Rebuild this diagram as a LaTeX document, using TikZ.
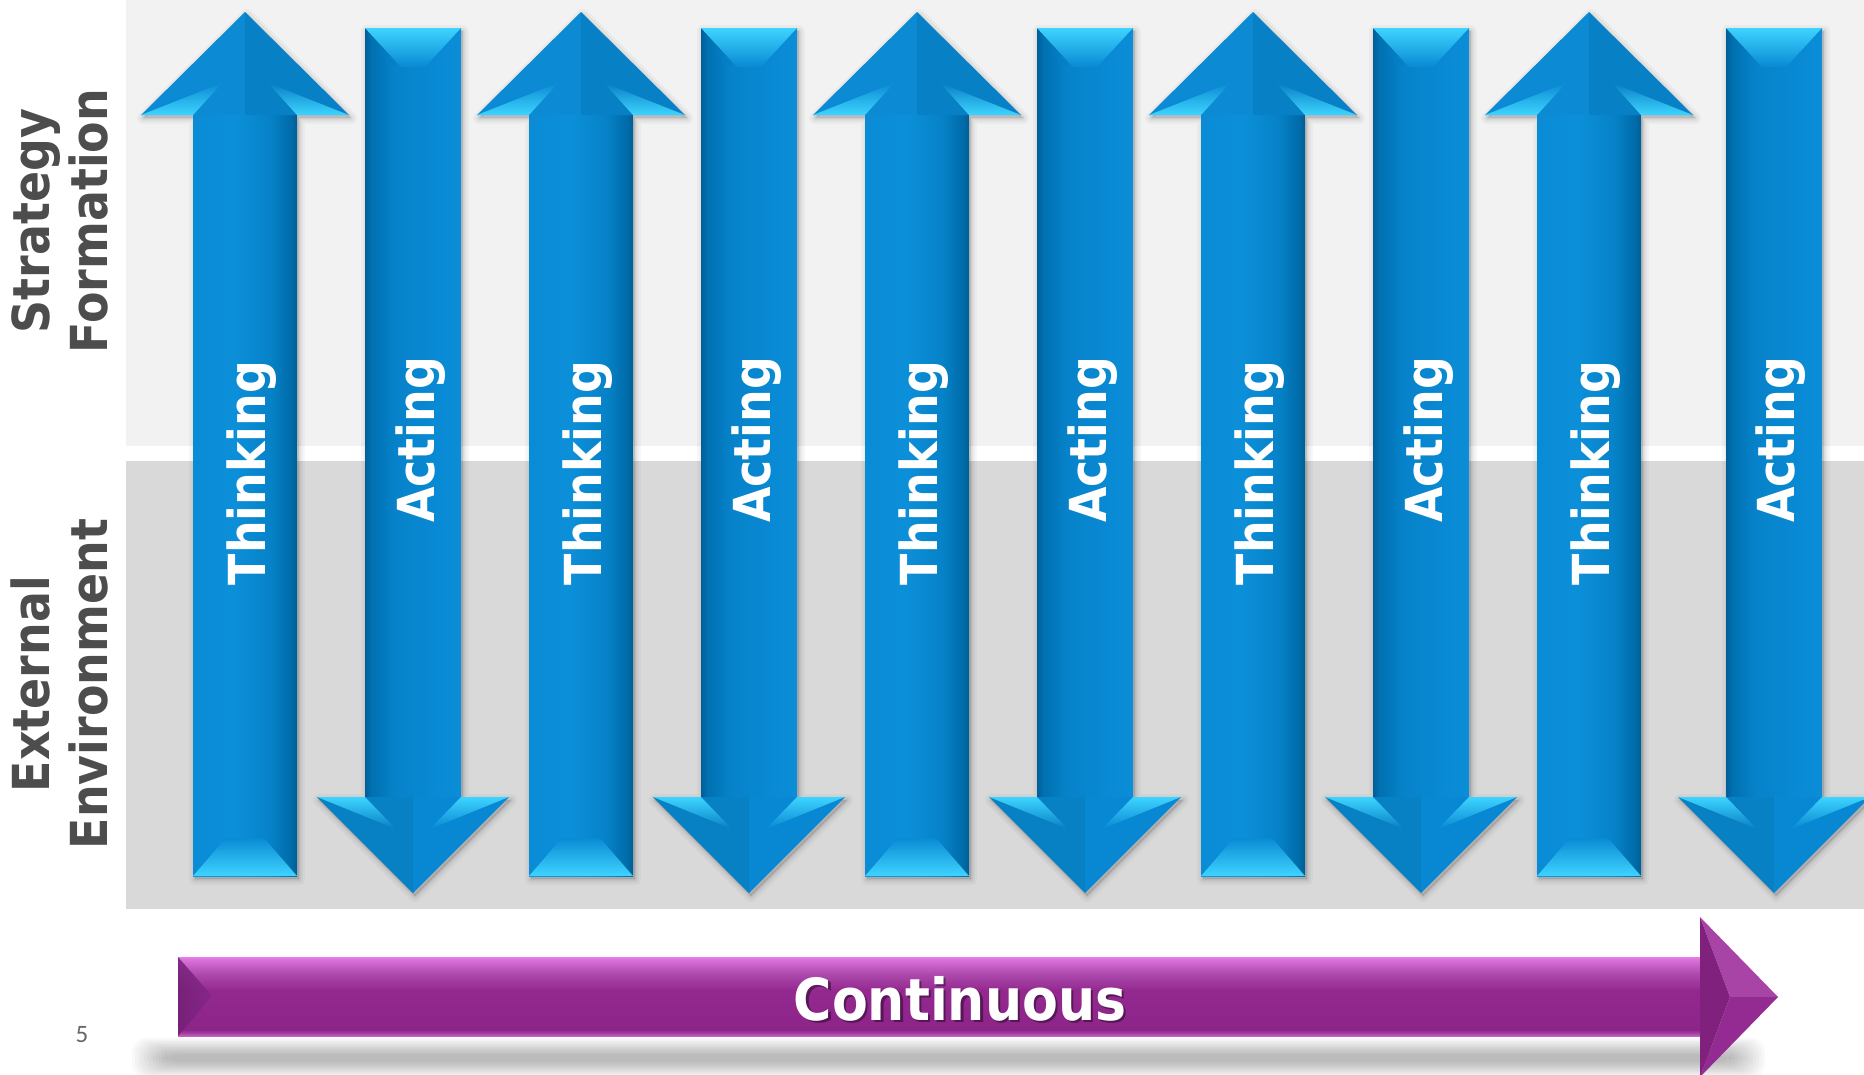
\documentclass[tikz,border=0pt]{standalone}
\usepackage{fontspec}
\newfontfamily\lab[FakeStretch=0.9]{DejaVu Sans}
\newfontfamily\numf{Carlito}
\usetikzlibrary{calc}
\definecolor{panelTop}{HTML}{F2F2F2}
\definecolor{panelBot}{HTML}{D9D9D9}
\definecolor{tsA}{HTML}{0A8BD5}
\definecolor{tsB}{HTML}{0C8FD9}
\definecolor{tsC}{HTML}{0682C8}
\definecolor{tsD}{HTML}{006CAA}
\definecolor{tsE}{HTML}{005D95}
\definecolor{asA}{HTML}{005E98}
\definecolor{asB}{HTML}{0070B0}
\definecolor{asC}{HTML}{0682C9}
\definecolor{asD}{HTML}{0989D3}
\definecolor{asE}{HTML}{0B8DD7}
\definecolor{bevL}{HTML}{3ED4FF}
\definecolor{hdL}{HTML}{0C8BD4}
\definecolor{hdR}{HTML}{0880C6}
\definecolor{dhL}{HTML}{0780C4}
\definecolor{dhR}{HTML}{0888D2}
\definecolor{labGrey}{HTML}{4D4D4D}
\definecolor{pB1}{HTML}{C462C4}
\definecolor{pB2}{HTML}{A23EA0}
\definecolor{pMain}{HTML}{8D2489}
\definecolor{pMid}{HTML}{93298F}
\definecolor{pUp}{HTML}{AC48AC}
\definecolor{pTop2}{HTML}{D26AD2}
\definecolor{pTop}{HTML}{E77DE8}
\definecolor{pBev}{HTML}{86268A}
\definecolor{pBack}{HTML}{80217E}
\definecolor{pUpper}{HTML}{A744A6}
\definecolor{pLower}{HTML}{942B92}
\pgfdeclarehorizontalshading{thinkshaft}{100bp}{color(0bp)=(tsA); color(25bp)=(tsA); color(45bp)=(tsB); color(62bp)=(tsC); color(72bp)=(tsD); color(75bp)=(tsE); color(100bp)=(tsE)}
\pgfdeclarehorizontalshading{actshaft}{100bp}{color(0bp)=(asA); color(25bp)=(asA); color(28bp)=(asB); color(40bp)=(asC); color(60bp)=(asD); color(75bp)=(asE); color(100bp)=(asE)}
\pgfdeclareverticalshading{purpbody}{100bp}{color(0bp)=(pB1); color(25bp)=(pB1); color(27bp)=(pB2); color(29bp)=(pMain); color(54bp)=(pMid); color(64bp)=(pUp); color(72bp)=(pTop2); color(75bp)=(pTop); color(100bp)=(pTop)}
\tikzset{
  lbl/.style={font=\lab\bfseries\fontsize{51}{58}\selectfont, text=white, inner sep=0pt, anchor=base, rotate=90},
  sidelbl/.style={font=\lab\bfseries\fontsize{51}{58}\selectfont, text=labGrey, inner sep=0pt, anchor=base, rotate=90},
  softshadow/.style={fill=black, draw=black, line join=round}
}
\newcommand{\thinkarr}[1]{%
\begin{scope}[shift={(#1,0)}]
 \foreach \w/\o in {12/0.03,7/0.04,3/0.06}{\path[softshadow,opacity=\o,line width=\w pt,shift={(2,3)}] (-52,876)--(-52,115)--(-104,115)--(0,12)--(104,115)--(52,115)--(52,876)--cycle;}
 \path[shading=thinkshaft] (-52,115) rectangle (52,876);
 \path[top color=tsA, bottom color=bevL] (-52,876)--(-19,838)--(19,838)--(52,876)--cycle;
 \fill[hdL] (-104,115)--(0,12)--(0,115)--cycle;
 \fill[hdR] (0,12)--(104,115)--(0,115)--cycle;
 \path[top color=hdL, bottom color=bevL] (-104,115)--(-23,83)--(-52,115)--cycle;
 \path[top color=hdR, bottom color=bevL] (104,115)--(23,83)--(52,115)--cycle;
\end{scope}}
\newcommand{\actarr}[1]{%
\begin{scope}[shift={(#1,0)}]
 \foreach \w/\o in {12/0.03,7/0.04,3/0.06}{\path[softshadow,opacity=\o,line width=\w pt,shift={(2,3)}] (-48,28)--(48,28)--(48,797)--(96,797)--(0,893)--(-96,797)--(-48,797)--cycle;}
 \path[shading=actshaft] (-48,28) rectangle (48,797);
 \path[top color=bevL, bottom color=asD] (-48,28)--(48,28)--(12,67)--(-12,67)--cycle;
 \fill[dhL] (-96,797)--(0,893)--(0,797)--cycle;
 \fill[dhR] (96,797)--(0,893)--(0,797)--cycle;
 \path[top color=bevL, bottom color=dhL] (-96,797)--(-48,797)--(-17,829)--cycle;
 \path[top color=bevL, bottom color=dhR] (96,797)--(48,797)--(17,829)--cycle;
\end{scope}}
\begin{document}
\begin{tikzpicture}[x=1pt,y=-1pt]
\useasboundingbox (0,0) rectangle (1864,1074);
\clip (0,0) rectangle (1864,1074);
\fill[white] (0,0) rectangle (1864,1074);
% panels
\fill[panelTop] (126,0) rectangle (1864,446);
\fill[panelBot] (126,461) rectangle (1864,909);
% arrows
\thinkarr{245}\thinkarr{581}\thinkarr{917}\thinkarr{1253}\thinkarr{1589}
\actarr{413}\actarr{749}\actarr{1085}\actarr{1421}\actarr{1774}
% arrow labels
\node[lbl] (t1) at (265,473) {Thinking};
\node[lbl] (t2) at (601,473) {Thinking};
\node[lbl] (t3) at (937,473) {Thinking};
\node[lbl] (t4) at (1273,473) {Thinking};
\node[lbl] (t5) at (1609,473) {Thinking};
\node[lbl] (a1) at (434,440) {Acting};
\node[lbl] (a2) at (770,440) {Acting};
\node[lbl] (a3) at (1106,440) {Acting};
\node[lbl] (a4) at (1442,440) {Acting};
\node[lbl] (a5) at (1794,440) {Acting};
% side labels
\node[sidelbl] (s1) at (49,221) {Strategy};
\node[sidelbl] (s2) at (107,221) {Formation};
\node[sidelbl] (e1) at (49,684) {External};
\node[sidelbl] (e2) at (107,684) {Environment};
% purple arrow shadow (soft)
\foreach \i in {0,...,11}{\fill[black,opacity=0.022,rounded corners=14pt] (132+\i*3,1038+\i*1.5) rectangle (1765-\i*3,1078-\i*1.5);}
% purple arrow
\path[shading=purpbody] (178,957) rectangle (1702,1036);
\path[left color=pBev!85!black, right color=pBev, opacity=0.85] (178,957)--(212,996)--(178,1036)--cycle;
\fill[pUpper] (1700,917)--(1778,997)--(1730,997)--cycle;
\fill[pLower] (1730,997)--(1778,997)--(1700,1077)--cycle;
\fill[pBack] (1700,917)--(1730,997)--(1700,1077)--cycle;
\node[font=\lab\bfseries\fontsize{58}{64}\selectfont, text=black, opacity=0.4, inner sep=0pt, anchor=base] (contsh) at (962.5,1022.5) {Continuous};
\node[font=\lab\bfseries\fontsize{58}{64}\selectfont, text=white, inner sep=0pt, anchor=base] (cont) at (960,1020) {Continuous};
% page number
\node[font=\numf\fontsize{25}{30}\selectfont, text=labGrey!85, inner sep=0pt] (pg) at (82,1035) {5};
\end{tikzpicture}
\end{document}
